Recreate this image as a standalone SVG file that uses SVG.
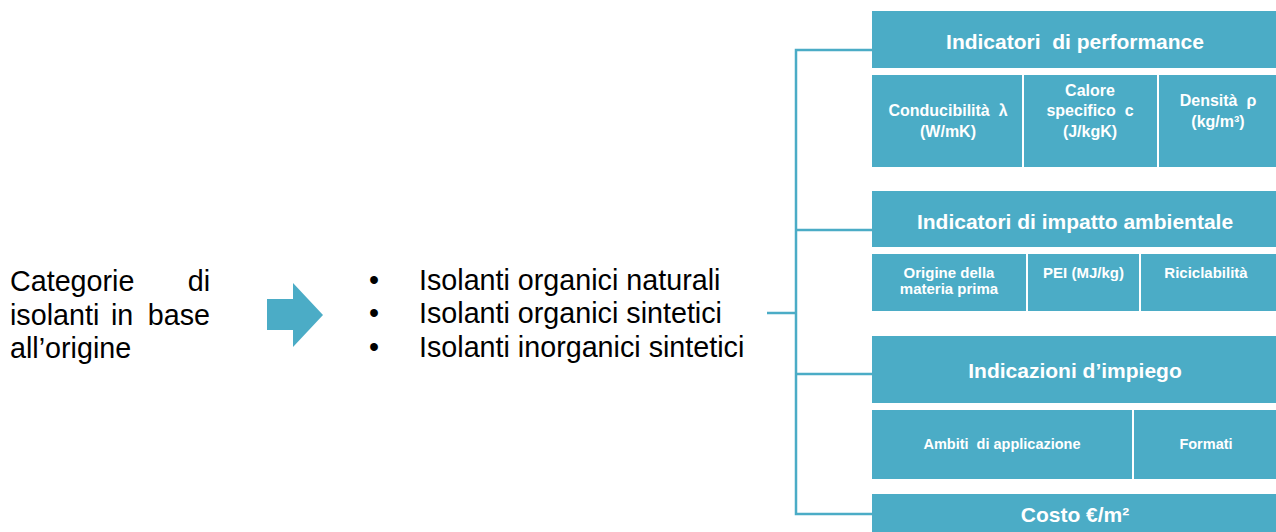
<svg xmlns="http://www.w3.org/2000/svg" width="1276" height="532" viewBox="0 0 1276 532">
<style>
text{white-space:pre}
.box{fill:#4BACC6}
.hd{font-family:"Liberation Sans",Arial,sans-serif;font-weight:bold;font-size:21px;fill:#fff;text-anchor:middle}
.sb{font-family:"Liberation Sans",Arial,sans-serif;font-weight:bold;fill:#fff;text-anchor:middle}
.tx{font-family:"Liberation Sans",Arial,sans-serif;fill:#000;font-size:28.7px}
.cn{fill:none;stroke:#4BACC6;stroke-width:2.5}
</style>
<rect width="1276" height="532" fill="#fff"/>
<g id="source">
<text class="tx" x="10" y="291">Categorie</text>
<text class="tx" x="210" y="291" text-anchor="end">di</text>
<text class="tx" x="10" y="325">isolanti</text>
<text class="tx" x="111" y="325">in</text>
<text class="tx" x="210" y="325" text-anchor="end">base</text>
<text class="tx" x="10" y="358">all’origine</text>
</g>
<g id="arrow">
<polygon class="box" points="267,299 293,299 293,283 323,315 293,347 293,330 267,330"/>
</g>
<g id="list">
<text class="tx" x="369" y="290">•</text>
<text class="tx" x="369" y="323">•</text>
<text class="tx" x="369" y="357">•</text>
<text class="tx" x="419" y="290">Isolanti organici naturali</text>
<text class="tx" x="419" y="323">Isolanti organici sintetici</text>
<text class="tx" x="419" y="357">Isolanti inorganici sintetici</text>
</g>
<g id="connectors">
<path class="cn" d="M767,313 H796 M872,50 H796 V514 H872 M796,230 H872 M796,374 H872"/>
</g>
<g id="performance">
<rect class="box" x="872" y="11" width="406" height="57"/>
<text class="hd" x="1075" y="49">Indicatori  di performance</text>
<rect class="box" x="872" y="75" width="150" height="92"/>
<rect class="box" x="1024" y="75" width="133" height="92"/>
<rect class="box" x="1159" y="75" width="119" height="92"/>
<text class="sb" font-size="16" x="948" y="116">Conducibilità  λ</text>
<text class="sb" font-size="16" x="948" y="137">(W/mK)</text>
<text class="sb" font-size="16" x="1090" y="96">Calore</text>
<text class="sb" font-size="16" x="1090" y="116">specifico  c</text>
<text class="sb" font-size="16" x="1090" y="137">(J/kgK)</text>
<text class="sb" font-size="16" x="1218" y="106">Densità  ρ</text>
<text class="sb" font-size="16" x="1218" y="127">(kg/m³)</text>
</g>
<g id="impatto">
<rect class="box" x="872" y="191" width="406" height="56"/>
<text class="hd" x="1075" y="229">Indicatori di impatto ambientale</text>
<rect class="box" x="872" y="254" width="154" height="57"/>
<rect class="box" x="1028" y="254" width="111" height="57"/>
<rect class="box" x="1141" y="254" width="137" height="57"/>
<text class="sb" font-size="15" x="949" y="277.5">Origine della</text>
<text class="sb" font-size="15" x="949" y="294">materia prima</text>
<text class="sb" font-size="15" x="1083.5" y="277.5">PEI (MJ/kg)</text>
<text class="sb" font-size="15" x="1206" y="277.5">Riciclabilità</text>
</g>
<g id="impiego">
<rect class="box" x="872" y="336" width="406" height="67"/>
<text class="hd" x="1075" y="378">Indicazioni d’impiego</text>
<rect class="box" x="872" y="410" width="260" height="69"/>
<rect class="box" x="1134" y="410" width="144" height="69"/>
<text class="sb" font-size="14.5" x="1002" y="449">Ambiti  di applicazione</text>
<text class="sb" font-size="14.5" x="1206" y="449">Formati</text>
</g>
<g id="costo">
<rect class="box" x="872" y="494" width="406" height="40"/>
<text class="hd" x="1075" y="522">Costo €/m²</text>
</g>
</svg>
